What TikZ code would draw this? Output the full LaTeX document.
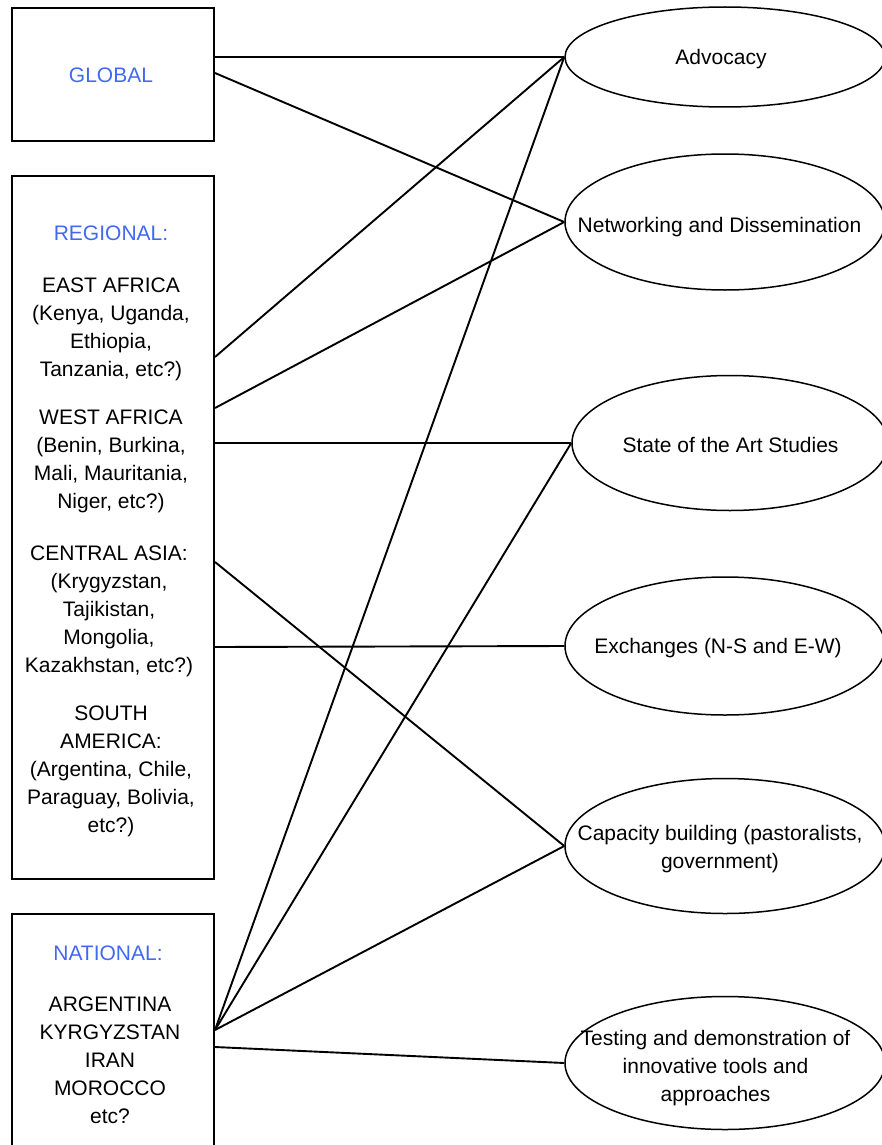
\documentclass[tikz,border=0pt]{standalone}
\usepackage{fontspec}
\setmainfont{Liberation Sans}
\usetikzlibrary{shapes.geometric}
\definecolor{titleblue}{RGB}{65,105,240}
\begin{document}
\begin{tikzpicture}[x=1pt,y=-1pt,
 box/.style={draw,line width=2pt,inner sep=0pt,anchor=north west},
 ell/.style={draw,ellipse,line width=1.5pt,inner sep=0pt},
 txt/.style={align=center,font=\fontsize{21}{28}\selectfont,inner sep=0pt,yshift=-2pt},
 title/.style={txt,text=titleblue},
 link/.style={line width=1.9pt}]
\useasboundingbox (0,0) rectangle (882,1145);
\clip (0,0) rectangle (882,1145);
% boxes
\node[box,minimum width=202pt,minimum height=133pt] (global) at (11,7) {};
\node[box,minimum width=202pt,minimum height=703pt] (regional) at (11,175) {};
\node[box,minimum width=202pt,minimum height=260pt] (national) at (11,913) {};
% box texts
\node[title] (globalt) at (111,73) {GLOBAL};
\node[title] (regt) at (111,231) {REGIONAL:};
\node[txt] (ea) at (111,327) {EAST AFRICA\\(Kenya, Uganda,\\Ethiopia,\\Tanzania, etc?)};
\node[txt] (wa) at (111,459) {WEST AFRICA\\(Benin, Burkina,\\Mali, Mauritania,\\Niger, etc?)};
\node[txt] (ca) at (109,609) {CENTRAL ASIA:\\(Krygyzstan,\\Tajikistan,\\Mongolia,\\Kazakhstan, etc?)};
\node[txt] (sa) at (111,769) {SOUTH\\AMERICA:\\(Argentina, Chile,\\Paraguay, Bolivia,\\etc?)};
\node[title] (natt) at (108,951) {NATIONAL:};
\node[txt] (nat) at (110,1058) {ARGENTINA\\KYRGYZSTAN\\IRAN\\MOROCCO\\etc?};
% ellipses
\node[ell,minimum width=320pt,minimum height=100pt] (adv) at (725,57) {};
\node[ell,minimum width=320pt,minimum height=136pt] (net) at (725,222) {};
\node[ell,minimum width=316pt,minimum height=135pt] (state) at (730,443) {};
\node[ell,minimum width=320pt,minimum height=138pt] (exch) at (725,646) {};
\node[ell,minimum width=320pt,minimum height=135pt] (cap) at (725,846) {};
\node[ell,minimum width=320pt,minimum height=133pt] (test) at (725,1063) {};
% ellipse texts
\node[txt] (advt) at (721,57) {Advocacy};
\node[txt] (nett) at (719.5,225) {Networking and Dissemination};
\node[txt] (statet) at (730.5,443) {State of the Art Studies};
\node[txt] (excht) at (718,646) {Exchanges (N-S and E-W)};
\node[txt] (capt) at (720,847) {Capacity building (pastoralists,\\government)};
\node[txt] (testt) at (715.5,1066) {Testing and demonstration of\\innovative tools and\\approaches};
% links
\draw[link] (global.east |- 0,57) -- (adv.west);
\draw[link] (global.east |- 0,73) -- (net.west);
\draw[link] (regional.east |- 0,357) -- (adv.west);
\draw[link] (regional.east |- 0,408) -- (net.west);
\draw[link] (regional.east |- 0,443) -- (state.west);
\draw[link] (regional.east |- 0,562) -- (cap.west);
\draw[link] (regional.east |- 0,647) -- (exch.west);
\draw[link] (national.east |- 0,1030) -- (adv.west);
\draw[link] (national.east |- 0,1030) -- (state.west);
\draw[link] (national.east |- 0,1030) -- (cap.west);
\draw[link] (national.east |- 0,1047) -- (test.west);
\end{tikzpicture}
\end{document}
